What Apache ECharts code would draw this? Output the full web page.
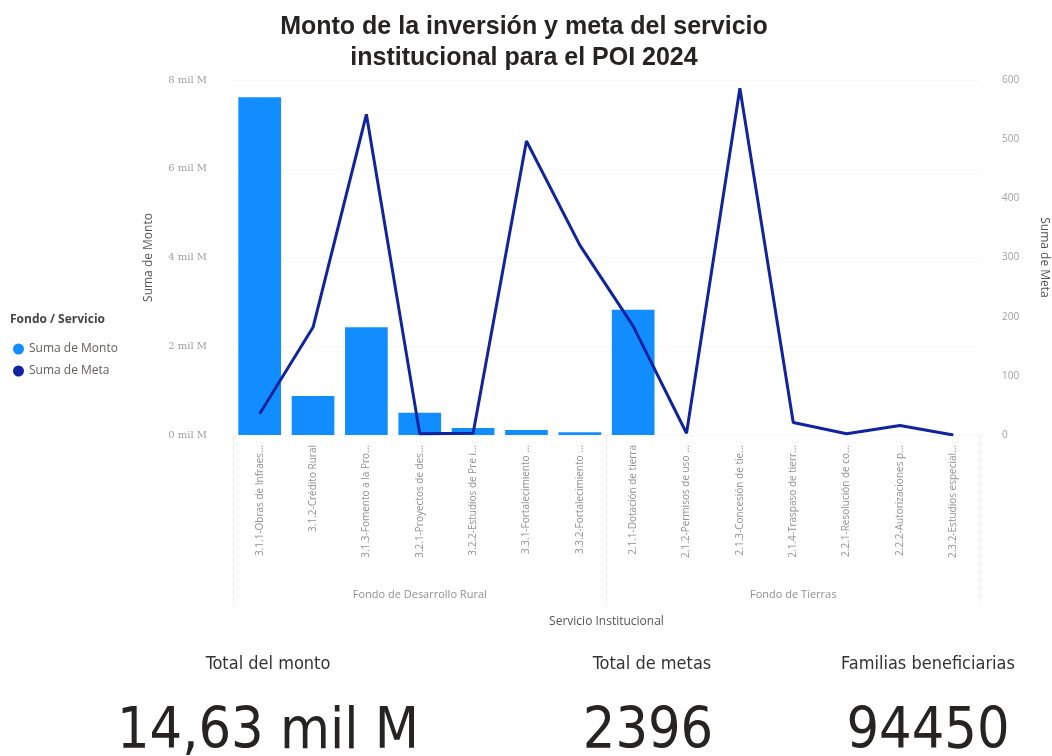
<!DOCTYPE html>
<html>
<head>
<meta charset="utf-8">
<script src="https://cdn.jsdelivr.net/npm/echarts@6/dist/echarts.min.js"></script>
<style>
html,body{margin:0;padding:0;background:#fff;overflow:hidden;}
#chart{width:1052px;height:756px;}
</style>
</head>
<body>
<div id="chart"></div>
<script>
// ---- data ----
const categories = [
  "3.1.1-Obras de Infraes...",
  "3.1.2-Crédito Rural",
  "3.1.3-Fomento a la Pro...",
  "3.2.1-Proyectos de des...",
  "3.2.2-Estudios de Pre i...",
  "3.3.1-Fortalecimiento ...",
  "3.3.2-Fortalecimiento ...",
  "2.1.1-Dotación de tierra",
  "2.1.2-Permisos de uso ...",
  "2.1.3-Concesión de tie...",
  "2.1.4-Traspaso de tierr...",
  "2.2.1-Resolución de co...",
  "2.2.2-Autorizaciones p...",
  "2.3.2-Estudios especial..."
];
const groups = ["Fondo de Desarrollo Rural", "Fondo de Tierras"];
// Suma de Monto, in millions
const monto = [7610, 880, 2430, 500, 160, 110, 60, 2820, 0, 0, 0, 0, 0, 0];
// Suma de Meta
const meta = [36, 182, 542, 2, 3, 497, 321, 184, 3, 586, 21, 2, 16, 0];
const leftTicks = [0, 2000, 4000, 6000, 8000];
const rightTicks = [0, 100, 200, 300, 400, 500, 600];
const cardLabels = ["Total del monto", "Total de metas", "Familias beneficiarias"];
const cardValues = ["14,63 mil M", "2396", "94450"];

const chart = echarts.init(document.getElementById('chart'));
const tickColor = '#a0a0a0';
const nameColor = '#555555';
const uiFont = '"Open Sans", "Noto Sans", sans-serif';
const cardFont = '"Liberation Sans Narrow", "DejaVu Sans Condensed", sans-serif';
const numFont = '"DejaVu Sans Condensed", "Liberation Sans Narrow", sans-serif';

const option = {
  animation: false,
  title: {
    text: 'Monto de la inversión y meta del servicio\ninstitucional para el POI 2024',
    left: 519, textAlign: 'center', top: 7,
    textStyle: { fontFamily: '"Liberation Sans", Arial, sans-serif', fontWeight: 'bold', fontSize: 25, color: '#252423', lineHeight: 31 }
  },
  legend: {
    orient: 'vertical', left: 8, top: 338, itemGap: 10,
    icon: 'circle', itemWidth: 11, itemHeight: 11,
    textStyle: { color: '#605E5C', fontSize: 12, fontFamily: uiFont },
    data: ['Suma de Monto', 'Suma de Meta']
  },
  grid: { left: 233, right: 72, top: 80, bottom: 321, containLabel: false, outerBoundsMode: 'none' },
  xAxis: [
    {
      type: 'category', data: categories, position: 'bottom',
      axisLine: { show: false }, axisTick: { show: false },
      axisLabel: { rotate: 90, color: '#909090', fontSize: 10, fontFamily: uiFont, margin: 10, interval: 0 }
    },
    {
      type: 'category', data: groups, position: 'bottom',
      axisLine: { show: false },
      axisTick: { show: true, inside: false, length: 170, lineStyle: { color: '#e2e2e2', type: 'dotted' } },
      axisLabel: { color: '#909090', fontSize: 11, fontFamily: uiFont, margin: 154 },
      name: 'Servicio Institucional', nameLocation: 'middle', nameGap: 181,
      nameTextStyle: { color: nameColor, fontSize: 12, fontFamily: uiFont }
    }
  ],
  yAxis: [
    {
      type: 'value', min: 0, max: 8000, interval: 2000,
      name: 'Suma de Monto', nameLocation: 'middle', nameGap: 78,
      nameTextStyle: { color: nameColor, fontSize: 12, fontFamily: uiFont },
      axisLabel: { color: tickColor, fontSize: 10, fontFamily: '"DejaVu Serif", serif', margin: 26, formatter: v => (v / 1000) + ' mil M' },
      splitLine: { show: true, lineStyle: { color: '#f0f0f0', type: 'dotted' } },
      axisLine: { show: false }, axisTick: { show: false }
    },
    {
      type: 'value', min: 0, max: 600, interval: 100,
      name: 'Suma de Meta', nameLocation: 'middle', nameGap: 58, nameRotate: -90,
      nameTextStyle: { color: nameColor, fontSize: 12, fontFamily: uiFont },
      axisLabel: { color: tickColor, fontSize: 10, fontFamily: uiFont, margin: 22 },
      splitLine: { show: false },
      axisLine: { show: false }, axisTick: { show: false }
    }
  ],
  series: [
    {
      name: 'Suma de Monto', type: 'bar', data: monto, yAxisIndex: 0, xAxisIndex: 0,
      barCategoryGap: '20%', itemStyle: { color: '#118DFF' }
    },
    {
      name: 'Suma de Meta', type: 'line', data: meta, yAxisIndex: 1, xAxisIndex: 0,
      symbol: 'none', lineStyle: { color: '#12239E', width: 3 }, itemStyle: { color: '#12239E' }
    }
  ],
  graphic: [
    { type: 'text', left: 10, top: 314, style: { text: 'Fondo / Servicio', fill: '#444', font: 'bold 12px ' + uiFont } },
    { type: 'text', x: 268, y: 664, style: { text: cardLabels[0], fill: '#333', font: '18px ' + cardFont, textAlign: 'center', textVerticalAlign: 'middle' } },
    { type: 'text', x: 652, y: 664, style: { text: cardLabels[1], fill: '#333', font: '18px ' + cardFont, textAlign: 'center', textVerticalAlign: 'middle' } },
    { type: 'text', x: 928, y: 664, style: { text: cardLabels[2], fill: '#333', font: '18px ' + cardFont, textAlign: 'center', textVerticalAlign: 'middle' } },
    { type: 'text', x: 268, y: 733, style: { text: cardValues[0], fill: '#252423', font: '57px ' + numFont, textAlign: 'center', textVerticalAlign: 'middle' } },
    { type: 'text', x: 648, y: 733, style: { text: cardValues[1], fill: '#252423', font: '57px ' + numFont, textAlign: 'center', textVerticalAlign: 'middle' } },
    { type: 'text', x: 928, y: 733, style: { text: cardValues[2], fill: '#252423', font: '57px ' + numFont, textAlign: 'center', textVerticalAlign: 'middle' } }
  ]
};
chart.setOption(option);
</script>
</body>
</html>
